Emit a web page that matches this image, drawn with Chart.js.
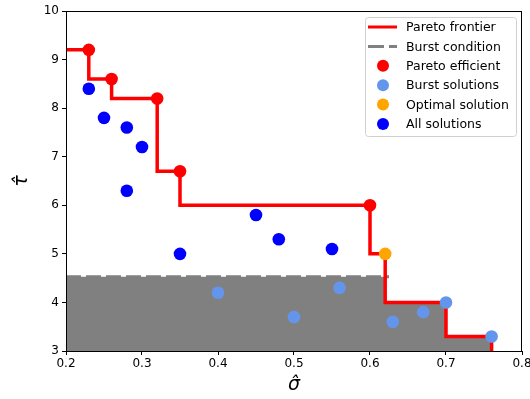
<!DOCTYPE html>
<html>
<head>
<meta charset="utf-8">
<script src="https://cdn.jsdelivr.net/npm/chart.js@4"></script>
<style>
  body { margin: 0; background: #fff; }
</style>
</head>
<body>
<canvas id="chart" width="530" height="399"></canvas>
<script>
// Fronteira de Pareto (degraus)
const frontierX = [0.2, 0.23, 0.26, 0.32, 0.35, 0.6, 0.62, 0.7, 0.76];
const frontierY = [9.2, 8.6, 8.2, 6.7, 6.0, 5.0, 4.0, 3.3, 3.0];

// Condicao de burst
const burstLevel = 4.53;
const burstX = [0.2, 0.625];

// Pontos
const paretoX = [0.23, 0.26, 0.32, 0.35, 0.6];
const paretoY = [9.2, 8.6, 8.2, 6.7, 6.0];
const burstSolX = [0.4, 0.5, 0.56, 0.63, 0.67, 0.7, 0.76];
const burstSolY = [4.2, 3.7, 4.3, 3.6, 3.8, 4.0, 3.3];
const optimalX = [0.62];
const optimalY = [5.0];
const allX = [0.23, 0.25, 0.28, 0.30, 0.28, 0.35, 0.45, 0.48, 0.55];
const allY = [8.4, 7.8, 7.6, 7.2, 6.3, 5.0, 5.8, 5.3, 5.1];

const xTicks = [0.2, 0.3, 0.4, 0.5, 0.6, 0.7, 0.8];
const yTicks = [3, 4, 5, 6, 7, 8, 9, 10];

const pts = (xs, ys) => xs.map((x, i) => ({ x: x, y: ys[i] }));

// area cinza: abaixo do burst e da fronteira
const fillPts = [{ x: frontierX[0], y: burstLevel }].concat(
  pts(frontierX, frontierY).filter(p => p.y < burstLevel)
);

const FONT = 'DejaVu Sans';

const extras = {
  id: 'extras',
  afterDraw(chart) {
    const ctx = chart.ctx;
    const a = chart.chartArea;
    ctx.save();
    // moldura
    ctx.strokeStyle = '#000';
    ctx.lineWidth = 1;
    ctx.strokeRect(a.left + 0.5, a.top + 0.5, a.right - a.left - 1, a.bottom - a.top);

    // titulos dos eixos
    ctx.fillStyle = '#000';
    ctx.font = 'italic 19px ' + FONT;
    ctx.textAlign = 'center';
    ctx.textBaseline = 'middle';
    ctx.fillText('\u03C3\u0302', (a.left + a.right) / 2, 385);
    ctx.save();
    ctx.translate(22, (a.top + a.bottom) / 2);
    ctx.rotate(-Math.PI / 2);
    ctx.fillText('\u03C4\u0302', 0, 0);
    ctx.restore();

    // legenda
    const lx = 365, ly = 17, lw = 151, lh = 119;
    ctx.fillStyle = 'rgba(255,255,255,0.8)';
    ctx.strokeStyle = '#d0d0d0';
    ctx.beginPath();
    ctx.roundRect(lx + 0.5, ly + 0.5, lw, lh, 3);
    ctx.fill();
    ctx.stroke();

    const items = [
      { label: 'Pareto frontier', kind: 'line', color: '#ff0000' },
      { label: 'Burst condition', kind: 'dash', color: '#808080' },
      { label: 'Pareto efficient', kind: 'dot', color: '#ff0000' },
      { label: 'Burst solutions', kind: 'dot', color: '#6495ed' },
      { label: 'Optimal solution', kind: 'dot', color: '#ffa500' },
      { label: 'All solutions', kind: 'dot', color: '#0000ff' }
    ];
    ctx.font = '12.5px ' + FONT;
    ctx.textAlign = 'left';
    items.forEach((it, i) => {
      const y = 27 + i * 19.4;
      if (it.kind === 'dot') {
        ctx.fillStyle = it.color;
        ctx.beginPath();
        ctx.arc(383, y, 6, 0, Math.PI * 2);
        ctx.fill();
      } else {
        ctx.strokeStyle = it.color;
        ctx.lineWidth = 3;
        ctx.setLineDash(it.kind === 'dash' ? [16, 5] : []);
        ctx.beginPath();
        ctx.moveTo(368, y);
        ctx.lineTo(397, y);
        ctx.stroke();
        ctx.setLineDash([]);
      }
      ctx.fillStyle = '#000';
      ctx.fillText(it.label, 406, y + 1);
    });
    ctx.restore();
  }
};

new Chart(document.getElementById('chart'), {
  type: 'scatter',
  data: {
    datasets: [
      {
        label: 'Burst area',
        data: fillPts,
        showLine: true,
        stepped: 'before',
        fill: 'start',
        backgroundColor: '#808080',
        borderWidth: 0,
        pointRadius: 0,
        order: 10
      },
      {
        label: 'Burst condition',
        data: burstX.map(x => ({ x: x, y: burstLevel })),
        showLine: true,
        borderColor: '#808080',
        borderWidth: 3,
        borderDash: [15, 5],
        pointRadius: 0,
        order: 9
      },
      {
        label: 'Pareto frontier',
        data: pts(frontierX, frontierY),
        showLine: true,
        stepped: 'before',
        borderColor: '#ff0000',
        borderWidth: 3.5,
        pointRadius: 0,
        order: 8
      },
      {
        label: 'All solutions',
        data: pts(allX, allY),
        backgroundColor: '#0000ff',
        borderWidth: 0,
        pointRadius: 6.3,
        order: 4
      },
      {
        label: 'Burst solutions',
        data: pts(burstSolX, burstSolY),
        backgroundColor: '#6495ed',
        borderWidth: 0,
        pointRadius: 6.3,
        order: 3
      },
      {
        label: 'Pareto efficient',
        data: pts(paretoX, paretoY),
        backgroundColor: '#ff0000',
        borderWidth: 0,
        pointRadius: 6.3,
        order: 2
      },
      {
        label: 'Optimal solution',
        data: pts(optimalX, optimalY),
        backgroundColor: '#ffa500',
        borderWidth: 0,
        pointRadius: 6.3,
        order: 1
      }
    ]
  },
  options: {
    responsive: false,
    animation: false,
    layout: { padding: { top: 11, right: 8, left: 0, bottom: 0 } },
    plugins: {
      legend: { display: false },
      tooltip: { enabled: false }
    },
    scales: {
      x: {
        type: 'linear',
        min: 0.2,
        max: 0.8,
        afterFit: s => { s.height = 48; s.paddingLeft = 0; s.paddingRight = 0; },
        afterBuildTicks: s => { s.ticks = xTicks.map(v => ({ value: v })); },
        ticks: {
          color: '#000',
          font: { family: FONT, size: 12 },
          padding: 2,
          maxRotation: 0,
          callback: v => v.toFixed(1)
        },
        grid: { drawOnChartArea: false, drawTicks: true, tickLength: 4, color: '#000' },
        border: { display: true, color: '#000' }
      },
      y: {
        type: 'linear',
        min: 3,
        max: 10,
        afterFit: s => { s.width = 66; s.paddingTop = 0; s.paddingBottom = 0; },
        afterBuildTicks: s => { s.ticks = yTicks.map(v => ({ value: v })); },
        ticks: {
          color: '#000',
          font: { family: FONT, size: 12 },
          padding: 3,
          callback: v => String(v)
        },
        grid: { drawOnChartArea: false, drawTicks: true, tickLength: 4, color: '#000' },
        border: { display: true, color: '#000' }
      }
    }
  },
  plugins: [extras]
});
</script>
</body>
</html>
